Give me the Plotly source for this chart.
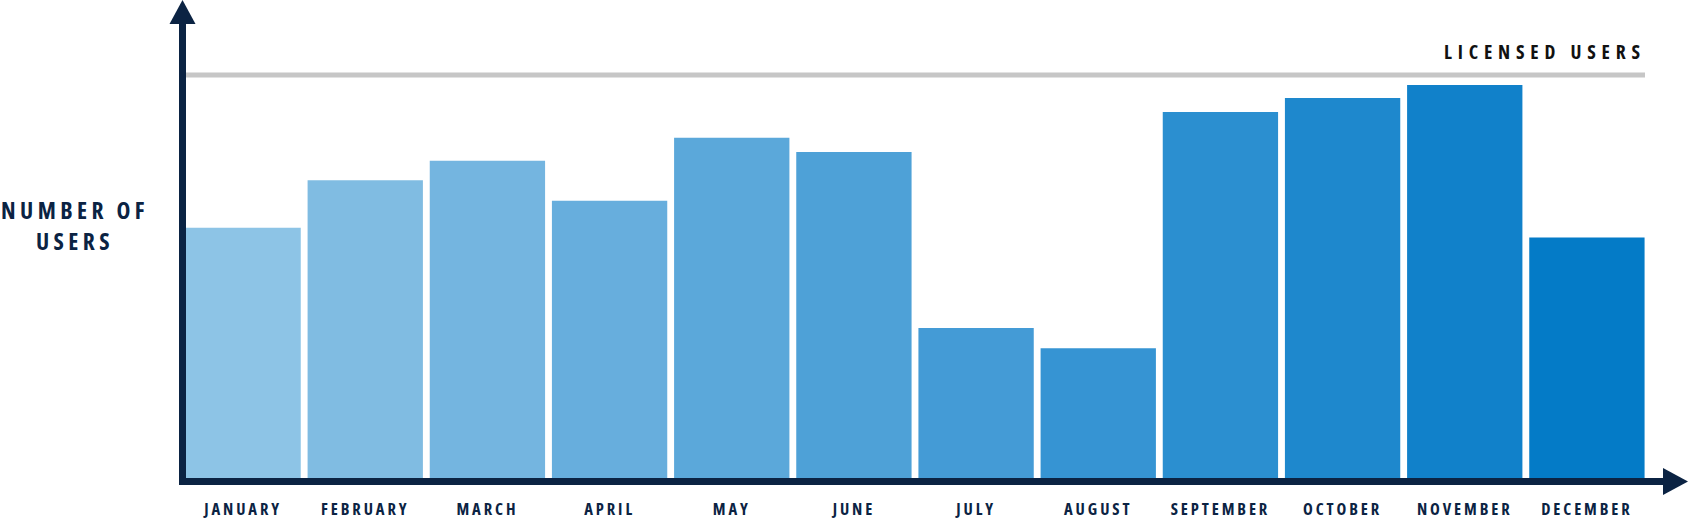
import plotly.graph_objects as go

# ---- data ----
months = ["JANUARY", "FEBRUARY", "MARCH", "APRIL", "MAY", "JUNE", "JULY",
          "AUGUST", "SEPTEMBER", "OCTOBER", "NOVEMBER", "DECEMBER"]
users = [62.1, 73.9, 78.7, 68.8, 84.4, 80.9, 37.2, 32.2, 90.8, 94.3, 97.5, 59.7]
licensed_users = 100
bar_colors = ["#8DC4E6", "#80BCE2", "#74B5E0", "#67AEDD", "#5BA8DA", "#4EA1D7",
              "#449BD6", "#3694D3", "#2B8FD0", "#1E88CD", "#1181CA", "#047BC7"]
y_title = "NUMBER OF<br>USERS"
licensed_label = "LICENSED USERS"

# ---- layout geometry (pixels) ----
W, H = 1691, 521
PL, PR, PT, PB = 182, 1648, 20, 478
NAVY = "#0B2343"


def px(x):
    return (x - PL) / (PR - PL)


def py(y):
    return (PB - y) / (PB - PT)


def spaced(t, ls=2.2):
    return f'<span style="font-stretch:75%;letter-spacing:{ls}px">{t}</span>'


y_top = licensed_users * (PB - PT) / (PB - 75)

fig = go.Figure(go.Bar(
    x=months, y=users, marker=dict(color=bar_colors, line=dict(width=0)),
    hoverinfo="x+y",
))

fig.update_layout(
    width=W, height=H,
    margin=dict(l=PL, r=W - PR, t=PT, b=H - PB, pad=0, autoexpand=False),
    paper_bgcolor="white", plot_bgcolor="white",
    bargap=0.056, showlegend=False,
    font=dict(family="Open Sans", color=NAVY),
    xaxis=dict(
        range=[-0.5, 11.5], showgrid=False, zeroline=False, showline=False,
        ticks="", tickmode="array", tickvals=months, automargin=False,
        ticktext=[spaced(m, 2.9) for m in months],
        tickfont=dict(family="Open Sans", size=16.5, color=NAVY, weight=700),
        ticklabelstandoff=19,
    ),
    yaxis=dict(range=[0, y_top], showgrid=False, zeroline=False, showline=False,
               showticklabels=False, ticks="", automargin=False),
)

shapes = []
# licensed users reference line
shapes.append(dict(type="line", xref="paper", yref="y", x0=px(186), x1=px(1645),
                   y0=licensed_users, y1=licensed_users,
                   line=dict(color="#C6C6C6", width=5), layer="below"))
# y axis with arrow
shapes.append(dict(type="line", xref="paper", yref="paper", x0=px(182.5), x1=px(182.5),
                   y0=py(485), y1=py(22), line=dict(color=NAVY, width=7), layer="above"))
shapes.append(dict(type="path", xref="paper", yref="paper",
                   path=f"M {px(169.5)},{py(24)} L {px(195.5)},{py(24)} L {px(182.5)},{py(0)} Z",
                   fillcolor=NAVY, line=dict(width=0), layer="above"))
# x axis with arrow
shapes.append(dict(type="line", xref="paper", yref="paper", x0=px(179), x1=px(1665),
                   y0=py(481.5), y1=py(481.5), line=dict(color=NAVY, width=7), layer="above"))
shapes.append(dict(type="path", xref="paper", yref="paper",
                   path=f"M {px(1663)},{py(468)} L {px(1663)},{py(495)} L {px(1688)},{py(481.5)} Z",
                   fillcolor=NAVY, line=dict(width=0), layer="above"))
fig.update_layout(shapes=shapes)

fig.add_annotation(
    xref="paper", yref="paper", x=px(1648), y=py(51), xanchor="right", yanchor="middle",
    text=spaced(licensed_label, 5.8), showarrow=False,
    font=dict(family="Open Sans", size=19.5, color="#111111", weight=700),
)
fig.add_annotation(
    xref="paper", yref="paper", x=px(75), y=py(225), xanchor="center", yanchor="middle",
    text=spaced(y_title, 4.4), showarrow=False, align="center",
    font=dict(family="Open Sans", size=23.5, color=NAVY, weight=700),
)

page_css = (
    "var s='margin:0;padding:0;overflow:hidden;width:1691px;height:521px;';"
    "document.documentElement.style.cssText=s;"
    "document.body.style.cssText=s;"
)
fig.write_html("out.html", config={"displayModeBar": False}, post_script=page_css)
